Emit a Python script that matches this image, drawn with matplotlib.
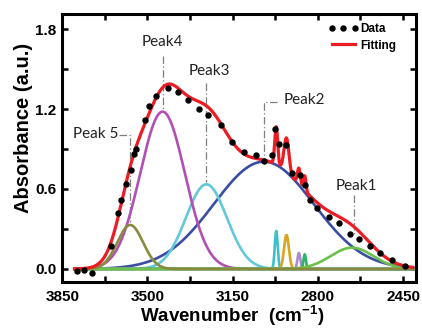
import numpy as np
import matplotlib
matplotlib.use("Agg")
import matplotlib.pyplot as plt
from matplotlib.ticker import MultipleLocator, FormatStrFormatter

plt.rcParams['mathtext.fontset'] = 'custom'
plt.rcParams['mathtext.rm'] = 'Liberation Sans'
plt.rcParams['mathtext.bf'] = 'Liberation Sans:bold'

# ---- measured data points (wavenumber, absorbance) ----
data_x = [3791, 3759, 3726, 3649, 3622, 3607, 3588, 3567, 3554, 3546, 3511, 3493,
          3465, 3417, 3376, 3335, 3288, 3253, 3199, 3151, 3104, 3056, 3022, 2987,
          2978, 2960, 2929, 2906, 2872, 2851, 2831, 2803, 2756, 2715, 2667, 2633,
          2585, 2544, 2496, 2442]
data_y = [-0.015, -0.01, -0.03, 0.17, 0.42, 0.52, 0.64, 0.74, 0.86, 0.90, 1.12, 1.22,
          1.30, 1.36, 1.33, 1.27, 1.20, 1.155, 1.08, 0.955, 0.88, 0.855, 0.81, 0.855,
          1.05, 0.94, 0.93, 0.72, 0.705, 0.63, 0.52, 0.455, 0.39, 0.345, 0.265, 0.225,
          0.17, 0.12, 0.07, 0.02]

# ---- fitted Gaussian components: centre, height, sigma ----
comp_names   = ["Peak2", "Peak3", "Peak4", "sub1", "sub2", "sub3", "sub4", "Peak1", "Peak 5"]
comp_center  = [3022, 3258, 3438, 2971, 2929, 2878, 2854, 2660, 3571]
comp_height  = [0.805, 0.635, 1.18, 0.285, 0.255, 0.12, 0.11, 0.16, 0.33]
comp_sigma   = [205, 84, 92, 6, 10, 6, 5, 88, 53]
comp_colors  = ["#3A4DA3", "#62C9DA", "#B24FB4", "#3CC0CC", "#D9A521", "#A98BCA",
                "#2FB36A", "#6CC04A", "#8A8A3C"]

# ---- annotations ----
labels = ["Peak4", "Peak3", "Peak2", "Peak 5", "Peak1"]
xtick_vals = [3850, 3500, 3150, 2800, 2450]

xs = np.linspace(3800, 2398, 2000)

def gauss(x, c, h, s):
    return h * np.exp(-0.5 * ((x - c) / s) ** 2)

fig = plt.figure(figsize=(4.22, 3.30), dpi=100)
ax = fig.add_axes([62/422, 48/330, 354/422, 268/330])

total = np.zeros_like(xs)
for c, h, s, col in zip(comp_center, comp_height, comp_sigma, comp_colors):
    g = gauss(xs, c, h, s)
    total += g
    ax.plot(xs, g, color=col, lw=1.9, zorder=2)

fit_mask = xs >= 2410
ax.plot(xs[fit_mask], total[fit_mask], color="#EC1C24", lw=2.3, zorder=3, label="Fitting")
ax.plot(data_x, data_y, 'o', color='black', ms=3.6, zorder=4, label="Data")

# leader lines and labels
lc = dict(color="#7F7F7F", lw=0.9, ls=(0, (6, 2, 1, 2)), zorder=1)
tf = dict(family="Lato", fontsize=11, color="#222222")
# Peak4
ax.plot([3438, 3438], [1.60, 1.19], **lc)
ax.text(3437, 1.70, labels[0], ha='center', va='center', **tf)
# Peak3
ax.plot([3258, 3258], [1.395, 0.65], **lc)
ax.text(3244, 1.485, labels[1], ha='center', va='center', **tf)
# Peak2
ax.plot([2966, 3023, 3023], [1.255, 1.255, 0.82], **lc)
ax.text(2941, 1.265, labels[2], ha='left', va='center', **tf)
# Peak 5
ax.plot([3617, 3572, 3572], [1.005, 1.005, 0.35], **lc)
ax.text(3620, 1.01, labels[3], ha='right', va='center', **tf)
# Peak1
ax.plot([2650, 2650], [0.555, 0.255], **lc)
ax.text(2642, 0.625, labels[4], ha='center', va='center', **tf)

ax.set_xticks(xtick_vals)
ax.xaxis.set_minor_locator(MultipleLocator(175))
ax.yaxis.set_major_locator(MultipleLocator(0.6))
ax.yaxis.set_minor_locator(MultipleLocator(0.3))
ax.set_xlim(3851, 2397)
ax.set_ylim(-0.0975, 1.9125)

for sp in ax.spines.values():
    sp.set_linewidth(2.2)
ax.tick_params(which='both', direction='in', top=True, right=True, length=4, width=1.8)
ax.tick_params(axis='x', which='major', pad=6)
ax.tick_params(axis='y', which='major', pad=4)
ax.yaxis.set_major_formatter(FormatStrFormatter('%.1f'))
for lab in ax.get_xticklabels() + ax.get_yticklabels():
    lab.set_family("Liberation Sans")
    lab.set_fontweight("bold")
    lab.set_fontsize(11)

fig.text(24/422, (330-128)/330, "Absorbance (a.u.)", family="Liberation Sans",
         fontweight='bold', fontsize=14.5, rotation=90, ha='center', va='center')
fig.text(232/422, 8/330, r"Wavenumber  (cm$^{\mathbf{-1}}$)", family="Liberation Sans",
         fontweight='bold', fontsize=13.5, ha='center', va='baseline')

h, l = ax.get_legend_handles_labels()
leg = ax.legend([h[1], h[0]], [l[1], l[0]], loc='upper right', frameon=False,
                numpoints=3, handlelength=2.6, handletextpad=0.1,
                borderaxespad=0.4, labelspacing=0.35,
                prop=dict(family="Liberation Sans", weight='bold', size=8.5),
                bbox_to_anchor=(0.97, 1.0))

fig.savefig("out.png", dpi=100)
